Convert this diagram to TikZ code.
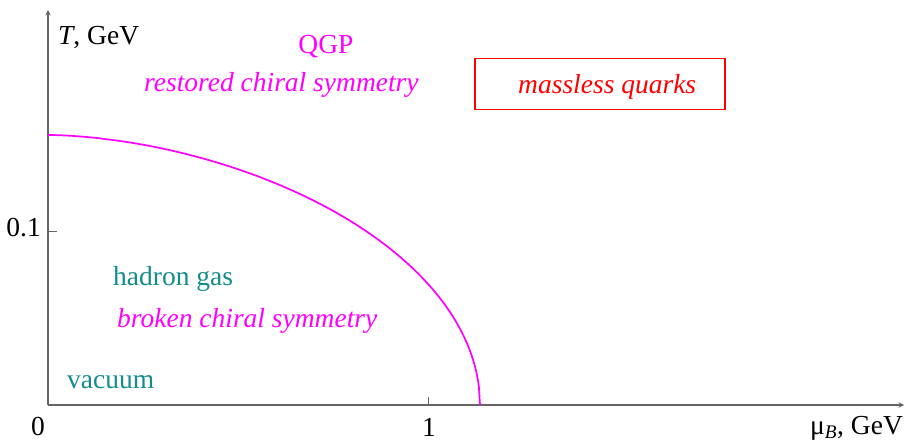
\documentclass[tikz,border=0pt]{standalone}
\usepackage{fontspec}
\setmainfont{Liberation Serif}
\definecolor{phaseteal}{RGB}{20,140,140}
\definecolor{phasepink}{RGB}{255,0,255}
\definecolor{axisgray}{RGB}{100,100,100}
\begin{document}
\begin{tikzpicture}[x=1pt,y=-1pt,>=stealth,font=\fontsize{27.5}{32}\selectfont]
\useasboundingbox (0,0) rectangle (904,444);
\coordinate (O) at (48,405);
\coordinate (Ttop) at (48,10);
\coordinate (Mend) at (904,405);
\coordinate (Tick1) at (428,405);
\coordinate (Tick01) at (48,231);
\coordinate (Mcrit) at (480,405);

\draw[->, axisgray, line width=1.4pt] (O) -- (Ttop);
\draw[->, axisgray, line width=1.4pt] (O) -- (Mend);
\draw[axisgray, line width=1pt] (Tick1) -- ++(0,-8);
\draw[axisgray, line width=1pt] (Tick01) -- ++(9,0);

\node[anchor=base west, inner sep=0] (Tlab) at (58,45) {\textit{T}, GeV};
\node[anchor=base east, inner sep=0] (Tval) at (41,236) {0.1};
\node[anchor=base, inner sep=0] (Mzero) at (38,435) {0};
\node[anchor=base, inner sep=0] (Mone) at (429,436) {1};
\node[anchor=base west, inner sep=0] (Mlab) at (810,434) {μ\textsubscript{\textit{B}}, GeV};

% phase boundary
\draw[phasepink, line width=1.7pt] plot[domain=0.0001:0.9995, samples=500, variable=\t]
  ({48+432*\t}, {405-270*sqrt(max(0,1-\t^1.75))}) -- (Mcrit);

\node[anchor=base, phasepink, inner sep=0] (QGP) at (326,53) {QGP};
\node[anchor=base west, phasepink, inner sep=0] (Restored) at (144,92) {\itshape restored chiral symmetry};
\node[draw=red, line width=1.3pt, minimum width=250pt, minimum height=51pt, inner sep=0] (Box) at (600,84) {};
\node[anchor=base west, red, inner sep=0] (Massless) at (518,93) {\itshape massless quarks};
\node[anchor=base west, phaseteal, inner sep=0] (Hadron) at (113,285) {hadron gas};
\node[anchor=base west, phasepink, inner sep=0] (Broken) at (117,327) {\itshape broken chiral symmetry};
\node[anchor=base west, phaseteal, inner sep=0] (Vacuum) at (67,388) {vacuum};
\end{tikzpicture}
\end{document}
